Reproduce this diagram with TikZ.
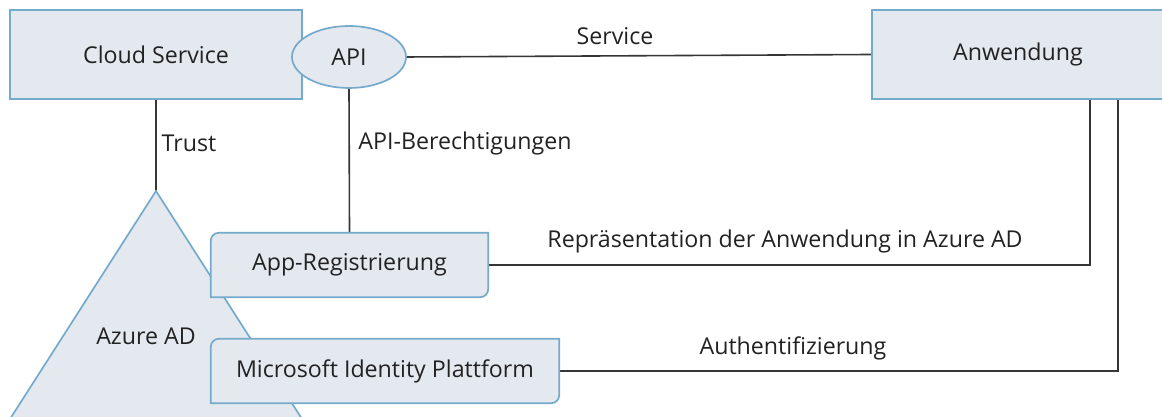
\documentclass[tikz,border=0pt]{standalone}
\usepackage{fontspec}
\setmainfont{Open Sans}
\usetikzlibrary{calc,shapes.geometric}
\definecolor{boxfill}{HTML}{E4E9EF}
\definecolor{boxline}{HTML}{74AACB}
\definecolor{conn}{HTML}{363636}
\definecolor{txt}{HTML}{222222}
\begin{document}
\begin{tikzpicture}[x=1pt,y=1pt,
  every node/.style={text=txt,font=\fontsize{23.2}{27}\selectfont},
  sqbox/.style={draw=boxline,fill=boxfill,line width=1.7pt,inner sep=0pt},
  outl/.style={draw=boxline,fill=boxfill,line width=1.7pt},
  conline/.style={draw=conn,line width=1.6pt},
  lbl/.style={inner sep=0pt}]
\useasboundingbox (0,0) rectangle (1162,417);
\clip (0,0) rectangle (1162,417);

% named nodes (positions for connectors)
\node[sqbox,minimum width=292pt,minimum height=89pt] (cloud) at (156,362.5) {Cloud Service};
\node[sqbox,minimum width=292pt,minimum height=89pt] (anw) at (1018,362.5) {Anwendung};
\node[ellipse,minimum width=114pt,minimum height=62pt,inner sep=0pt] (api) at (349,360) {};
\node[minimum width=277pt,minimum height=64pt,inner sep=0pt] (app) at (349.5,152) {};
\node[minimum width=348pt,minimum height=64pt,inner sep=0pt] (mip) at (385,46) {};
\coordinate (apex) at (156,226);

% connectors
\draw[conline] (cloud.south) -- (apex);
\draw[conline] (api.south) -- (app.north);
\draw[conline] (api.east) -- (anw.west);
\draw[conline] (app.east) -| ($(anw.south)+(72,0)$);
\draw[conline] (mip.east) -| ($(anw.south)+(100,0)$);

% boxes over connectors
\node[sqbox,minimum width=292pt,minimum height=89pt] at (cloud) {Cloud Service};
\node[sqbox,minimum width=292pt,minimum height=89pt] at (anw) {Anwendung};

% triangle
\fill[boxfill] (10,-2) -- (apex) -- (302,-2) -- cycle;
\draw[outl,fill=none] (10,-2) -- (apex) -- (302,-2);
\node[lbl] (azure) at (146,81) {Azure AD};

% rounded boxes
\draw[outl] (app.south west) -- ([yshift=-8pt]app.north west) arc[start angle=180,end angle=90,radius=8] -- (app.north east) -- ([yshift=8pt]app.south east) arc[start angle=0,end angle=-90,radius=8] -- cycle;
\node[lbl] at (app) {App-Registrierung};
\draw[outl] (mip.south west) -- ([yshift=-8pt]mip.north west) arc[start angle=180,end angle=90,radius=8] -- (mip.north east) -- ([yshift=8pt]mip.south east) arc[start angle=0,end angle=-90,radius=8] -- cycle;
\node[lbl] at (mip) {Microsoft Identity Plattform};

% API ellipse
\draw[outl] (api.center) ellipse[x radius=57,y radius=31];
\node[lbl] at (api) {API};

% labels
\node[lbl] at (615,381) {Service};
\node[lbl] at (189,274) {Trust};
\node[lbl] at (465,274) {API-Berechtigungen};
\node[lbl] at (785,176) {Repräsentation der Anwendung in Azure AD};
\node[lbl] at (793,69) {Authentifizierung};
\end{tikzpicture}
\end{document}
